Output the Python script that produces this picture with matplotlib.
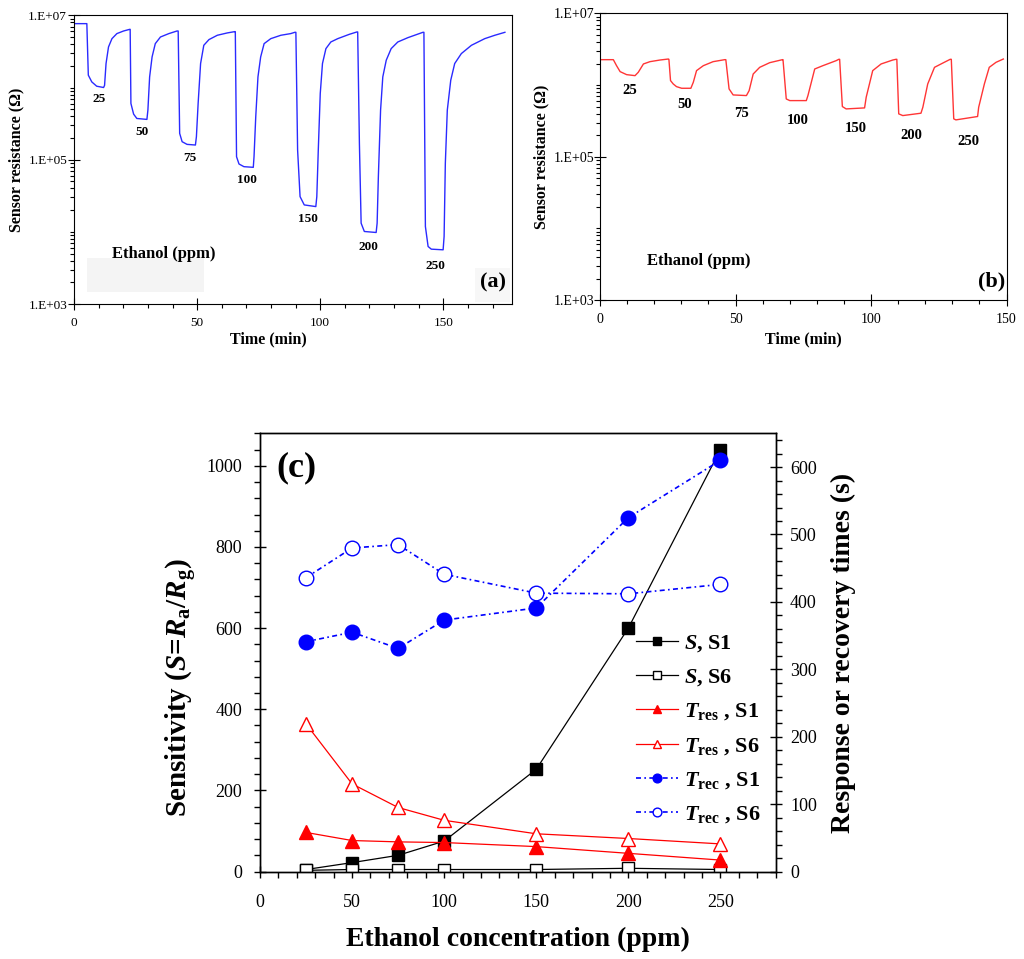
import numpy as np
import matplotlib
matplotlib.use('Agg')
import matplotlib.pyplot as plt
from matplotlib.patches import Rectangle
from matplotlib.ticker import (FixedLocator, FuncFormatter, LogLocator,
                               MultipleLocator, NullFormatter)

plt.rcParams['font.family'] = ['Liberation Serif', 'DejaVu Serif']
plt.rcParams['mathtext.fontset'] = 'custom'
plt.rcParams['mathtext.rm'] = 'Liberation Serif'
plt.rcParams['mathtext.it'] = 'Liberation Serif:italic'
plt.rcParams['mathtext.bf'] = 'Liberation Serif:bold'
try:
    plt.rcParams['mathtext.bfit'] = 'Liberation Serif:italic:bold'
except KeyError:
    pass

# ethanol concentrations (ppm)
conc = [25, 50, 75, 100, 150, 200, 250]

# (a) sensor S1 response, time (min) and log10 of resistance (ohm)
time_a = [0, 5.2, 5.8, 7.2, 9.2, 12.0, 12.4, 13.0, 14.0, 15.4, 17.4, 20.1, 22.6, 22.8,
          23.1, 24.2, 25.5, 29.6, 30.0, 30.7, 31.7, 33.0, 35.1, 38.5, 41.8, 42.3,
          42.9, 43.9, 45.9, 49.3, 49.7, 50.4, 51.4, 52.7, 54.8, 58.2, 62.2, 65.2, 65.5,
          66.0, 67.0, 69.0, 72.8, 73.1, 73.8, 74.7, 75.8, 77.2, 79.9, 84.0, 88.0, 89.7, 90.1,
          90.8, 91.8, 93.5, 98.2, 98.6, 99.2, 100.0, 100.9, 102.3, 104.3, 107.1, 111.8, 114.9, 115.2,
          115.9, 116.6, 117.9, 122.7, 123.1, 123.6, 124.5, 125.4, 126.8, 128.8, 131.5, 135.6, 141.7, 142.1,
          142.7, 143.8, 145.1, 149.9, 150.3, 150.8, 151.6, 153.0, 154.6, 157.3, 161.4, 166.8, 170.9, 175.0]
logr_a = [6.885, 6.885, 6.171, 6.078, 6.018, 6.000, 6.030, 6.332, 6.562, 6.677, 6.747, 6.783, 6.806, 6.806,
          5.779, 5.631, 5.571, 5.558, 5.687, 6.147, 6.424, 6.608, 6.700, 6.747, 6.783, 6.783,
          5.364, 5.249, 5.212, 5.203, 5.318, 5.779, 6.332, 6.585, 6.664, 6.724, 6.756, 6.774, 6.774,
          5.041, 4.940, 4.903, 4.894, 5.040, 5.594, 6.147, 6.424, 6.608, 6.677, 6.724, 6.747, 6.765, 6.765,
          5.134, 4.488, 4.373, 4.350, 4.488, 5.134, 5.917, 6.332, 6.539, 6.631, 6.677, 6.737, 6.770, 6.770,
          5.226, 4.120, 4.005, 3.991, 4.120, 4.765, 5.687, 6.147, 6.378, 6.539, 6.631, 6.691, 6.765, 6.765,
          4.074, 3.797, 3.760, 3.751, 3.935, 4.949, 5.687, 6.101, 6.332, 6.470, 6.585, 6.677, 6.724, 6.765]

# (b) sensor S6 response
time_b = [0, 4.9, 6.1, 7.4, 9.8, 12.9, 14.1, 16.0, 18.4, 22.1, 25.2,
          25.4, 26.0, 27.0, 28.2, 30.1, 33.5, 34.4, 35.6, 38.1, 41.7, 46.0, 46.4,
          47.6, 49.1, 54.0, 55.0, 56.5, 58.9, 62.6, 67.3, 67.5,
          68.7, 70.0, 76.1, 76.7, 79.2, 82.2, 87.1, 88.1, 88.4,
          89.4, 90.8, 97.6, 98.2, 100.6, 103.7, 108.0, 109.2, 109.5,
          110.2, 111.7, 118.4, 119.1, 120.9, 123.4, 127.0, 129.2, 129.6,
          130.5, 131.3, 139.3, 139.7, 141.8, 143.6, 146.1, 148.8]
logr_b = [6.355, 6.355, 6.270, 6.188, 6.146, 6.132, 6.179, 6.295, 6.327, 6.350, 6.364,
          6.360, 6.063, 6.016, 5.979, 5.956, 5.956, 6.039, 6.202, 6.271, 6.327, 6.355, 6.355,
          5.947, 5.863, 5.854, 5.923, 6.155, 6.248, 6.313, 6.355, 6.355,
          5.807, 5.784, 5.784, 5.854, 6.225, 6.271, 6.341, 6.360, 6.360,
          5.701, 5.668, 5.682, 5.831, 6.202, 6.295, 6.350, 6.360, 6.360,
          5.599, 5.575, 5.608, 5.691, 6.016, 6.248, 6.318, 6.360, 6.360,
          5.529, 5.515, 5.562, 5.691, 6.016, 6.248, 6.318, 6.364]

# (c) sensitivity and response / recovery times (s)
s_s1 = [5, 22, 40, 75, 252, 600, 1040]
s_s6 = [3, 5, 5, 5, 5, 8, 5]
tres_s1 = [58, 46, 44, 43, 37, 27, 17]
tres_s6 = [219, 130, 95, 76, 56, 49, 41]
trec_s1 = [341, 355, 331, 373, 391, 525, 610]
trec_s6 = [436, 480, 485, 441, 413, 412, 426]


def decade_label(v, pos):
    return '1.E+%02d' % int(round(np.log10(v)))


def style_transient(ax, xmax, size, ypad, xpad, xlab_pos):
    ax.set_yscale('log')
    ax.set_ylim(1e3, 1e7)
    ax.set_xlim(0, xmax)
    ax.yaxis.set_major_locator(FixedLocator([1e3, 1e5, 1e7]))
    ax.yaxis.set_major_formatter(FuncFormatter(decade_label))
    ax.yaxis.set_minor_locator(LogLocator(base=10, subs=np.arange(1, 10), numticks=30))
    ax.yaxis.set_minor_formatter(NullFormatter())
    ax.xaxis.set_major_locator(MultipleLocator(50))
    ax.xaxis.set_minor_locator(MultipleLocator(10))
    ax.tick_params(which='major', direction='inout', length=8, width=0.8,
                   labelsize=size, top=False, right=False)
    ax.tick_params(which='minor', direction='out', length=3, width=0.8,
                   top=False, right=False)
    ax.tick_params(axis='y', which='major', pad=ypad)
    ax.tick_params(axis='x', which='major', pad=xpad)
    for sp in ax.spines.values():
        sp.set_linewidth(0.8)
    ax.set_xlabel('Time (min)', fontsize=11.5, fontweight='bold')
    ax.xaxis.set_label_coords(*xlab_pos)
    ax.set_ylabel('Sensor resistance (\u03a9)', fontsize=11.5, fontweight='bold', labelpad=3)


fig = plt.figure(figsize=(10.24, 9.59), dpi=100)

# ---- (a)
ax_a = fig.add_axes([0.0723, 0.683, 0.428, 0.301])
ax_a.plot(time_a, 10 ** np.array(logr_a), color='#2a2aff', lw=1.0)
style_transient(ax_a, 178, 9.5, 1.0, 5.0, (0.443, -0.095))
ax_a.add_patch(Rectangle((0.030, 0.042), 0.267, 0.117, transform=ax_a.transAxes,
                         facecolor='#f4f4f4', edgecolor='none', zorder=0))
ax_a.add_patch(Rectangle((0.916, 0.007), 0.079, 0.118, transform=ax_a.transAxes,
                         facecolor='#f7f7f7', edgecolor='none', zorder=0))
pos_a = [(0.057, 0.709), (0.155, 0.595), (0.265, 0.505), (0.395, 0.429),
         (0.534, 0.294), (0.671, 0.197), (0.824, 0.132)]
for c, (x, y) in zip(conc, pos_a):
    ax_a.text(x, y, str(c), transform=ax_a.transAxes, fontsize=9.5,
              fontweight='bold', ha='center', va='center')
ax_a.text(0.205, 0.173, 'Ethanol (ppm)', transform=ax_a.transAxes, fontsize=12,
          fontweight='bold', ha='center', va='center')
ax_a.text(0.957, 0.073, '(a)', transform=ax_a.transAxes, fontsize=16,
          fontweight='bold', ha='center', va='center')

# ---- (b)
ax_b = fig.add_axes([0.586, 0.687, 0.397, 0.299])
ax_b.plot(time_b, 10 ** np.array(logr_b), color='#ff3535', lw=1.0)
style_transient(ax_b, 150, 10, 0.0, 5.5, (0.5, -0.108))
pos_b = [(0.074, 0.732), (0.209, 0.683), (0.348, 0.650), (0.487, 0.625),
         (0.628, 0.600), (0.766, 0.575), (0.905, 0.552)]
for c, (x, y) in zip(conc, pos_b):
    ax_b.text(x, y, str(c), transform=ax_b.transAxes, fontsize=10.5,
              fontweight='bold', ha='center', va='center')
ax_b.text(0.242, 0.136, 'Ethanol (ppm)', transform=ax_b.transAxes, fontsize=12,
          fontweight='bold', ha='center', va='center')
ax_b.text(0.963, 0.064, '(b)', transform=ax_b.transAxes, fontsize=16,
          fontweight='bold', ha='center', va='center')

# ---- (c)
ax = fig.add_axes([0.2539, 0.0912, 0.5036, 0.4569])
l1, = ax.plot(conc, s_s1, '-s', color='black', lw=0.9, ms=8.5, mfc='black', mew=1.0,
              label=r'$\mathbfit{S}$, S1')
l2, = ax.plot(conc, s_s6, '-s', color='black', lw=0.9, ms=8.5, mfc='white', mec='black',
              mew=1.0, label=r'$\mathbfit{S}$, S6')
ax.set_xlim(0, 280)
ax.set_ylim(0, 1080)

ax2 = ax.twinx()
dots = (0, (3, 2, 1, 2))
l3, = ax2.plot(conc, tres_s1, '-^', color='red', lw=0.9, ms=10, mfc='red', mew=1.0,
               label=r'$\mathbfit{T}_\mathbf{res}$ , S1')
l4, = ax2.plot(conc, tres_s6, '-^', color='red', lw=0.9, ms=10, mfc='white', mec='red',
               mew=1.0, label=r'$\mathbfit{T}_\mathbf{res}$ , S6')
l5, = ax2.plot(conc, trec_s1, ls=dots, marker='o', color='blue', lw=1.2, ms=10.5,
               mfc='blue', mew=1.0, label=r'$\mathbfit{T}_\mathbf{rec}$ , S1')
l6, = ax2.plot(conc, trec_s6, ls=dots, marker='o', color='blue', lw=1.2, ms=10.5,
               mfc='white', mec='blue', mew=1.0, label=r'$\mathbfit{T}_\mathbf{rec}$ , S6')
ax2.set_ylim(0, 650)

ax.xaxis.set_major_locator(MultipleLocator(50))
ax.xaxis.set_minor_locator(MultipleLocator(10))
ax.yaxis.set_major_locator(MultipleLocator(200))
ax.yaxis.set_minor_locator(MultipleLocator(40))
ax2.yaxis.set_major_locator(MultipleLocator(100))
ax2.yaxis.set_minor_locator(MultipleLocator(20))

ax.tick_params(which='major', direction='inout', length=9, width=1.0, labelsize=13,
               top=False, right=False)
ax.tick_params(which='minor', direction='out', length=4.5, width=1.0, top=False, right=False)
ax.tick_params(axis='y', which='major', pad=8.5)
ax.tick_params(axis='x', which='major', pad=12)
ax2.tick_params(which='major', direction='inout', length=9, width=1.0, labelsize=13, pad=5.8)
ax2.tick_params(which='minor', direction='out', length=4.5, width=1.0)
for a in (ax, ax2):
    for sp in a.spines.values():
        sp.set_linewidth(1.0)

ax.set_xlabel('Ethanol concentration (ppm)', fontsize=20, fontweight='bold', labelpad=11)
ax.set_ylabel(r'Sensitivity ($\mathbfit{S}$=$\mathbfit{R}_\mathbf{a}$/$\mathbfit{R}_\mathbf{g}$)',
              fontsize=21, fontweight='bold')
ax.yaxis.set_label_coords(-0.118, 0.42)
ax2.set_ylabel('Response or recovery times (s)', fontsize=20, fontweight='bold', labelpad=10)
ax.text(0.032, 0.921, '(c)', transform=ax.transAxes, fontsize=26, fontweight='bold',
        ha='left', va='center')

handles = [l1, l2, l3, l4, l5, l6]
ax2.legend(handles, [h.get_label() for h in handles], loc='center left',
           bbox_to_anchor=(0.73, 0.325), frameon=False,
           prop={'size': 16, 'weight': 'bold'}, handlelength=1.85, handletextpad=0.3,
           borderpad=0, borderaxespad=0, markerscale=0.6, labelspacing=0.6)

fig.savefig('out.png', dpi=100)
